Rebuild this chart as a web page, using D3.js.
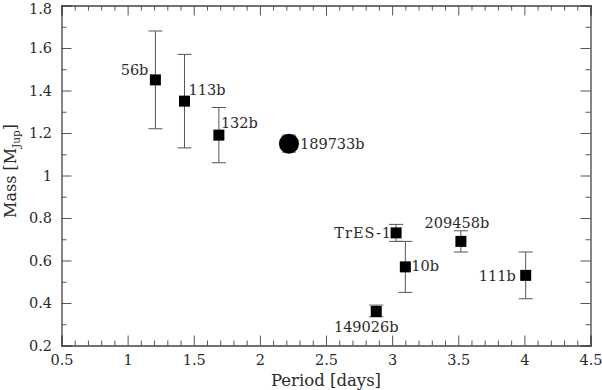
<!DOCTYPE html>
<html><head><meta charset="utf-8">
<script src="https://cdn.jsdelivr.net/npm/d3@7"></script>
<style>
body{margin:0;background:#fff;}
svg{display:block;}
text{font-family:"DejaVu Serif",serif;fill:#2a2a2a;}
</style></head>
<body><svg id="c" width="602" height="390"></svg>
<script>
// data
const names   = ["56b","113b","132b","189733b","TrES-1","10b","209458b","111b","149026b"];
const periods = [1.21, 1.43, 1.69, 2.22, 3.03, 3.10, 3.52, 4.01, 2.88];
const masses  = [1.45, 1.35, 1.19, 1.15, 0.73, 0.57, 0.69, 0.53, 0.36];
const errLow  = [1.22, 1.13, 1.06, 1.11, 0.69, 0.45, 0.64, 0.42, 0.335];
const errHigh = [1.68, 1.57, 1.32, 1.19, 0.77, 0.69, 0.74, 0.64, 0.39];
const markers = ["square","square","square","circle","square","square","square","square","square"];
const xTicks = [0.5,1,1.5,2,2.5,3,3.5,4,4.5];
const yTicks = [0.2,0.4,0.6,0.8,1,1.2,1.4,1.6,1.8];

// layout (label placement)
const labelPos = [
  {dx:-7, dy:-5, a:"end"},
  {dx:4, dy:-6, a:"start"},
  {dx:2, dy:-7, a:"start"},
  {dx:11, dy:5, a:"start"},
  {dx:-4, dy:5, a:"end"},
  {dx:6, dy:4, a:"start"},
  {dx:-4, dy:-13, a:"middle"},
  {dx:-10, dy:6, a:"end"},
  {dx:-10, dy:20, a:"middle"}
];

const L=61.5, R=590.5, T=5.5, B=345.5;
const FS="14.5px";
const svg = d3.select("#c");
const x = d3.scaleLinear().domain([0.5,4.5]).range([L,R]);
const y = d3.scaleLinear().domain([0.2,1.8]).range([B,T]);

const xMinor = d3.range(5,46).map(v=>v/10).filter(v=>!xTicks.some(t=>Math.abs(t-v)<1e-6));
const yMinor = d3.range(2,19).map(v=>v/10).filter(v=>!yTicks.some(t=>Math.abs(t-v)<1e-6));

const axisColor="#444";
function style(g){
  g.select(".domain").attr("stroke",axisColor).attr("stroke-width",1.3);
  g.selectAll(".tick line").attr("stroke","#555").attr("stroke-width",1);
  g.selectAll(".tick text").attr("font-size",FS).attr("fill","#2a2a2a").attr("font-family",'"DejaVu Serif",serif');
}
const fmt = d=>String(d);
svg.append("g").attr("transform",`translate(0,${B})`)
  .call(d3.axisBottom(x).tickValues(xTicks).tickFormat(fmt).tickSize(-10).tickPadding(9)).call(style);
svg.append("g").attr("transform",`translate(0,${B})`)
  .call(d3.axisBottom(x).tickValues(xMinor).tickFormat("").tickSize(-5)).call(style).select(".domain").remove();
svg.append("g").attr("transform",`translate(0,${T})`)
  .call(d3.axisTop(x).tickValues(xTicks).tickFormat("").tickSize(-10)).call(style);
svg.append("g").attr("transform",`translate(0,${T})`)
  .call(d3.axisTop(x).tickValues(xMinor).tickFormat("").tickSize(-5)).call(style).select(".domain").remove();
const ya = svg.append("g").attr("transform",`translate(${L},0)`)
  .call(d3.axisLeft(y).tickValues(yTicks).tickFormat(fmt).tickSize(-10).tickPadding(9.5)).call(style);
ya.selectAll(".tick text").filter(d=>d===1.8).attr("dy","0.55em");
svg.append("g").attr("transform",`translate(${L},0)`)
  .call(d3.axisLeft(y).tickValues(yMinor).tickFormat("").tickSize(-5)).call(style).select(".domain").remove();
svg.append("g").attr("transform",`translate(${R},0)`)
  .call(d3.axisRight(y).tickValues(yTicks).tickFormat("").tickSize(-10)).call(style);
svg.append("g").attr("transform",`translate(${R},0)`)
  .call(d3.axisRight(y).tickValues(yMinor).tickFormat("").tickSize(-5)).call(style).select(".domain").remove();

// axis titles
svg.append("text").attr("x",326).attr("y",386).attr("text-anchor","middle")
  .attr("font-size","16.5px").text("Period [days]");
const yl = svg.append("text").attr("transform",`translate(16,171) rotate(-90)`)
  .attr("text-anchor","middle").attr("font-size","16px");
yl.append("tspan").text("Mass [M");
yl.append("tspan").attr("font-size","10.5px").attr("dy",4).text("Jup");
yl.append("tspan").attr("dy",-4).text("]");

// error bars
const idx = d3.range(names.length);
const eb = svg.append("g").attr("stroke","#555").attr("stroke-width",1);
eb.selectAll("line.v").data(idx).join("line")
  .attr("x1",i=>x(periods[i])).attr("x2",i=>x(periods[i]))
  .attr("y1",i=>y(errLow[i])).attr("y2",i=>y(errHigh[i]));
eb.selectAll("line.lo").data(idx).join("line")
  .attr("x1",i=>x(periods[i])-7).attr("x2",i=>x(periods[i])+7)
  .attr("y1",i=>y(errLow[i])).attr("y2",i=>y(errLow[i]));
eb.selectAll("line.hi").data(idx).join("line")
  .attr("x1",i=>x(periods[i])-7).attr("x2",i=>x(periods[i])+7)
  .attr("y1",i=>y(errHigh[i])).attr("y2",i=>y(errHigh[i]));

// markers
svg.append("g").selectAll("path").data(idx).join("path")
  .attr("transform",i=>`translate(${x(periods[i])},${y(masses[i])})`)
  .attr("d",i=>markers[i]==="circle"
    ? d3.symbol(d3.symbolCircle, Math.PI*10*10)()
    : d3.symbol(d3.symbolSquare, 11*11)())
  .attr("fill","#000");

// labels
svg.append("g").selectAll("text").data(idx).join("text")
  .attr("x",i=>x(periods[i])+labelPos[i].dx)
  .attr("y",i=>y(masses[i])+labelPos[i].dy)
  .attr("text-anchor",i=>labelPos[i].a)
  .attr("font-size",FS)
  .attr("letter-spacing",(i)=>names[i]==="TrES-1"?"1px":null)
  .text(i=>names[i]);
</script></body></html>
